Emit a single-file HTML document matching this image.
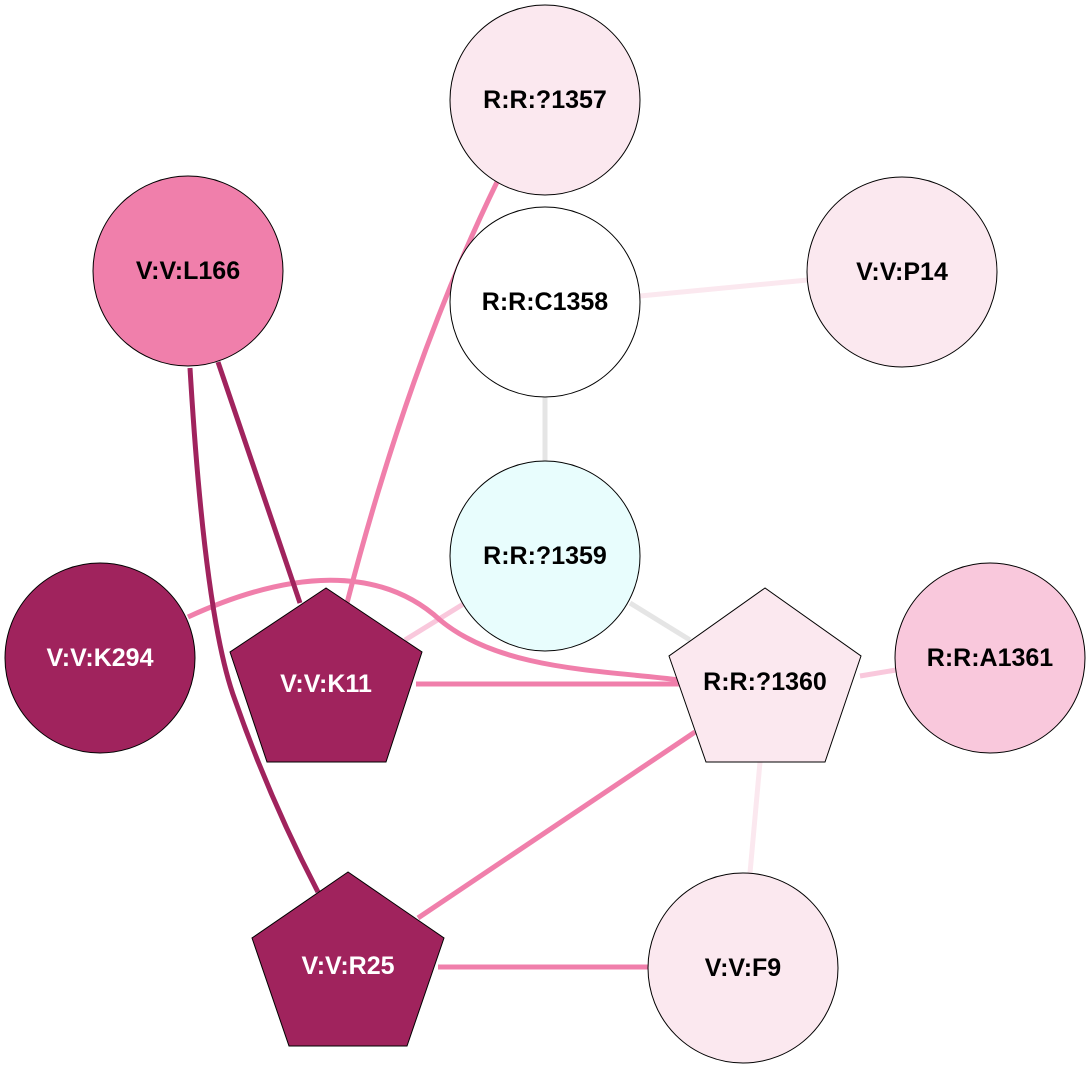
<!DOCTYPE html>
<html><head><meta charset="utf-8"><style>
html,body{margin:0;padding:0;background:#fff;}
text{font-family:"Liberation Sans",Arial,sans-serif;font-weight:bold;font-size:25px;text-anchor:middle;dominant-baseline:central;}
</style></head><body>
<svg width="1092" height="1070" viewBox="0 0 1092 1070" xmlns="http://www.w3.org/2000/svg">
<g fill="none" stroke-linecap="butt">
<line x1="640" y1="296" x2="808" y2="280" stroke="#fbe8ef" stroke-width="5"/>
<line x1="545" y1="397" x2="545" y2="462" stroke="#e5e5e5" stroke-width="5"/>
<line x1="630" y1="603" x2="690" y2="640" stroke="#e5e5e5" stroke-width="5"/>
<line x1="465" y1="603" x2="405" y2="640" stroke="#f9c8dc" stroke-width="5"/>
<line x1="860" y1="676" x2="896" y2="670" stroke="#f9c8dc" stroke-width="5"/>
<line x1="760" y1="762" x2="750" y2="873" stroke="#fbe8ef" stroke-width="5"/>
<path d="M498,180 Q410,360 347,603" stroke="#f07fab" stroke-width="5"/>
<path d="M188,617 C290,570 380,565 440,620 C500,670 600,670 680,680" stroke="#f07fab" stroke-width="5"/>
<line x1="416" y1="684" x2="680" y2="684" stroke="#f07fab" stroke-width="5"/>
<line x1="695" y1="732" x2="418" y2="918" stroke="#f07fab" stroke-width="5"/>
<line x1="438" y1="967" x2="650" y2="967" stroke="#f07fab" stroke-width="5"/>
<line x1="218" y1="362" x2="300" y2="603" stroke="#a0235d" stroke-width="5"/>
<path d="M190,368 Q205,620 235,700 Q270,800 318,892" stroke="#a0235d" stroke-width="5"/>
</g>
<g stroke="#000" stroke-width="1">
<circle cx="545" cy="100" r="95" fill="#fbe8ef"/>
<circle cx="545" cy="302" r="95" fill="#ffffff"/>
<circle cx="902" cy="272" r="95" fill="#fbe8ef"/>
<circle cx="188" cy="271" r="95" fill="#f07fab"/>
<circle cx="545" cy="556" r="95" fill="#e8fdfd"/>
<circle cx="100" cy="658" r="95" fill="#a0235d"/>
<circle cx="990" cy="658" r="95" fill="#f9c8dc"/>
<circle cx="743" cy="968" r="95" fill="#fbe8ef"/>
<polygon points="326,588 230,652 267,762 386,762 422,652" fill="#a0235d"/>
<polygon points="765,588 669,656 706,762 825,762 861,656" fill="#fbe8ef"/>
<polygon points="348,872 252,938 289,1046 407,1046 444,938" fill="#a0235d"/>
</g>
<text x="545" y="100">R:R:?1357</text>
<text x="545" y="302">R:R:C1358</text>
<text x="902" y="272">V:V:P14</text>
<text x="188" y="271">V:V:L166</text>
<text x="545" y="556">R:R:?1359</text>
<text x="100" y="658" fill="#fff">V:V:K294</text>
<text x="990" y="658">R:R:A1361</text>
<text x="743" y="968">V:V:F9</text>
<text x="326" y="684" fill="#fff">V:V:K11</text>
<text x="765" y="682">R:R:?1360</text>
<text x="348" y="966" fill="#fff">V:V:R25</text>
</svg>
</body></html>
